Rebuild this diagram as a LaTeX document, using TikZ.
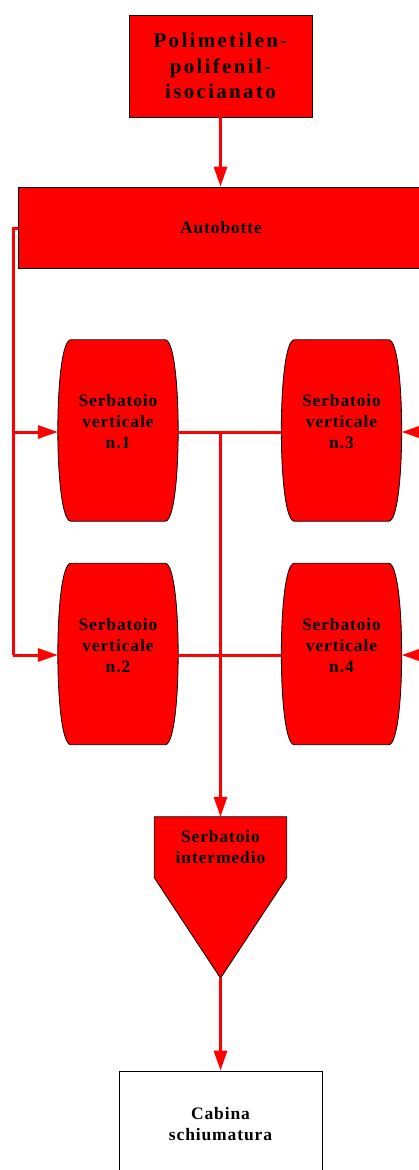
\documentclass[tikz,border=0pt]{standalone}
\usepackage{fontspec}
\setmainfont{Liberation Serif}
\usetikzlibrary{arrows.meta,calc}
\newcommand\drawbarrel[1]{%
  \draw[barrelline] ($(#1.north west)+(13,0)$) -- ($(#1.north east)+(-13,0)$)
    .. controls ($(#1.north east)+(4.3,0)$) and ($(#1.south east)+(4.3,0)$) .. ($(#1.south east)+(-13,0)$)
    -- ($(#1.south west)+(13,0)$)
    .. controls ($(#1.south west)+(-4.3,0)$) and ($(#1.north west)+(-4.3,0)$) .. cycle;}
\begin{document}
\begin{tikzpicture}[x=1pt,y=-1pt,
  flow/.style={draw=red, line width=3pt, -{Triangle[length=20pt,width=13pt]}},
  pipe/.style={draw=red, line width=3pt},
  txt/.style={align=center, inner sep=0pt, font=\bfseries\fontsize{17.5}{21}\selectfont\addfontfeatures{LetterSpace=5}},
  redbox/.style={draw=black, line width=0.8pt, fill=red, inner sep=0pt},
  ghost/.style={draw=none, inner sep=0pt, minimum width=120pt, minimum height=181pt},
  barrelline/.style={draw=black, line width=0.8pt, fill=red}
]
\useasboundingbox (0,0) rectangle (419,1170);
% top box
\node[redbox, minimum width=183pt, minimum height=102pt, align=center,
      font=\bfseries\fontsize{21}{25.5}\selectfont\addfontfeatures{LetterSpace=11}]
      (top) at (220.5,66) {Polimetilen-\\polifenil-\\isocianato};
% autobotte
\node[redbox, minimum width=406pt, minimum height=81pt, txt] (ab) at (221,227.5) {Autobotte};
% tanks
\node[ghost] (t1) at (118,430.5) {};
\node[ghost] (t2) at (118,654) {};
\node[ghost] (t3) at (341.5,430.5) {};
\node[ghost] (t4) at (341.5,654) {};
\drawbarrel{t1}
\drawbarrel{t2}
\drawbarrel{t3}
\drawbarrel{t4}
\node[txt] (t1l) at ($(t1.center)+(0,-8.5)$) {Serbatoio\\verticale\\n.1};
\node[txt] (t2l) at ($(t2.center)+(0,-8.5)$) {Serbatoio\\verticale\\n.2};
\node[txt] (t3l) at ($(t3.center)+(0,-8.5)$) {Serbatoio\\verticale\\n.3};
\node[txt] (t4l) at ($(t4.center)+(0,-8.5)$) {Serbatoio\\verticale\\n.4};
% intermediate tank
\node[draw=none, inner sep=0pt, minimum width=132pt, minimum height=161pt] (si) at (220.5,897.5) {};
\draw[barrelline] (si.north west) -- (si.north east) -- ($(si.north east)+(0,61)$)
  -- (si.south) -- ($(si.north west)+(0,61)$) -- cycle;
\node[txt] (sil) at (220.5,847.5) {Serbatoio\\intermedio};
% cabina
\node[draw=black, line width=0.8pt, fill=white, minimum width=203pt, minimum height=106pt, txt]
  (cab) at (220.5,1124) {Cabina\\schiumatura};
% connectors
\coordinate (c0) at (13,228);
\coordinate (c1) at (13,432);
\coordinate (c2) at (13,655);
\coordinate (j1) at (220.5,432);
\coordinate (r1) at (432,432);
\coordinate (r2) at (432,655);
\draw[flow] (top.south) -- (top.south |- ab.north);
\draw[pipe] (ab.west |- c0) -- (c0) -- (c2);
\draw[flow] (c1) -- (t1.west |- c1);
\draw[flow] (c2) -- (t2.west |- c2);
\draw[pipe] (t1.east |- c1) -- (t3.west |- c1);
\draw[pipe] (t2.east |- c2) -- (t4.west |- c2);
\draw[flow] (j1) -- (si.north);
\draw[flow] (r1) -- (t3.east |- r1);
\draw[flow] (r2) -- (t4.east |- r2);
\draw[flow] (si.south) -- (cab.north);
\end{tikzpicture}
\end{document}
